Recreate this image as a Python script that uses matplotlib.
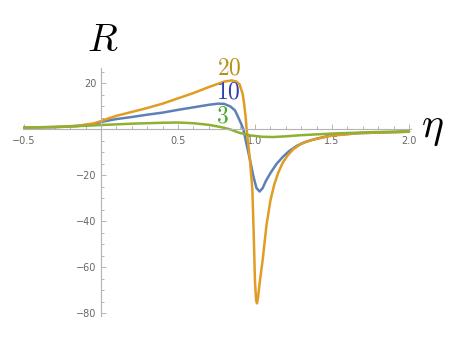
import matplotlib

matplotlib.use("Agg")
import matplotlib.pyplot as plt
import numpy as np
from matplotlib.ticker import MultipleLocator

plt.rcParams["mathtext.fontset"] = "cm"

# --- values -----------------------------------------------------------------
eta_20 = [-0.5, -0.3, -0.15, -0.05, 0.0, 0.05, 0.1, 0.2, 0.3, 0.4, 0.5, 0.6,
          0.7, 0.8, 0.85, 0.88, 0.9, 0.92, 0.93, 0.94, 0.946, 0.967, 0.983,
          0.992, 1.0, 1.007, 1.013, 1.02, 1.03, 1.05, 1.075, 1.1, 1.125, 1.15,
          1.18, 1.21, 1.25, 1.3, 1.36, 1.5, 1.68, 2.0]
r_20 = [0.8, 1.1, 1.6, 2.6, 3.6, 4.8, 5.9, 7.6, 9.3, 11.2, 13.5, 15.8,
        18.4, 20.8, 21.3, 20.8, 19.6, 15.5, 11.0, 5.0, 0.0, -13.0, -26.0,
        -46.0, -66.0, -74.0, -75.6, -73.0, -67.0, -56.7, -41.5, -31.0, -24.0,
        -19.0, -14.5, -11.5, -8.5, -6.3, -4.7, -2.7, -1.6, -1.0]

eta_10 = [-0.5, -0.3, -0.15, -0.05, 0.0, 0.05, 0.1, 0.2, 0.3, 0.4, 0.5, 0.6,
          0.7, 0.76, 0.8, 0.84, 0.87, 0.89, 0.91, 0.925, 0.946, 0.968, 0.99,
          1.01, 1.03, 1.05, 1.07, 1.1, 1.14, 1.18, 1.22, 1.27, 1.32, 1.4, 1.5,
          1.68, 2.0]
r_10 = [0.8, 1.0, 1.5, 2.3, 3.2, 3.9, 4.5, 5.4, 6.4, 7.3, 8.5, 9.6,
        10.7, 11.2, 11.1, 10.0, 8.3, 5.5, 2.5, 0.0, -6.7, -13.3, -20.5,
        -25.5, -27.0, -25.5, -22.5, -19.0, -15.0, -12.0, -9.5, -7.2, -5.6,
        -4.0, -2.5, -1.6, -1.0]

eta_3 = [-0.5, -0.25, 0.0, 0.2, 0.4, 0.5, 0.6, 0.7, 0.78, 0.84, 0.9, 0.97,
         1.05, 1.12, 1.2, 1.3, 1.5, 1.75, 2.0]
r_3 = [0.8, 1.1, 1.9, 2.5, 2.9, 3.0, 2.7, 2.0, 1.0, 0.0, -1.5, -2.6,
       -3.2, -3.3, -3.0, -2.5, -1.8, -1.2, -0.8]

x_ticks = [-0.5, 0.5, 1.0, 1.5, 2.0]
x_ticklabels = ["\u22120.5", "0.5", "1.0", "1.5", "2.0"]
y_ticks = [-80, -60, -40, -20, 20]
y_ticklabels = ["\u221280", "\u221260", "\u221240", "\u221220", "20"]

series = [
    # (eta, R, line colour, label, label colour, label position)
    (eta_10, r_10, "#5E81B5", "10", "#2f40b0", (0.499, 0.733)),
    (eta_20, r_20, "#E19C24", "20", "#b8901c", (0.501, 0.802)),
    (eta_3, r_3, "#8FB032", "3", "#45a82a", (0.486, 0.662)),
]

# --- figure -------------------------------------------------------------------
fig = plt.figure(figsize=(4.57, 3.43), dpi=100)
ax = fig.add_axes([23 / 457, 1 - 316 / 343, 388 / 457, 248 / 343])
ax.set_xlim(-0.506, 2.013)
ax.set_ylim(-81.1, 26.7)

for eta, r, color, label, lcolor, pos in series:
    ax.plot(eta, r, color=color, linewidth=1.8, solid_capstyle="round",
            solid_joinstyle="round")
    fig.text(pos[0], pos[1], f"${label}$", color=lcolor, fontsize=17,
             ha="center", va="center")

axis_grey = "#b4b4b4"
for side in ("top", "right"):
    ax.spines[side].set_visible(False)
for side in ("bottom", "left"):
    ax.spines[side].set_position(("data", 0))
    ax.spines[side].set_color(axis_grey)
    ax.spines[side].set_linewidth(0.8)

ax.set_xticks(x_ticks)
ax.set_xticklabels(x_ticklabels)
ax.set_yticks(y_ticks)
ax.set_yticklabels(y_ticklabels)
ax.xaxis.set_minor_locator(MultipleLocator(0.1))
ax.yaxis.set_minor_locator(MultipleLocator(5))
ax.tick_params(which="both", direction="in", color=axis_grey, width=0.7,
               labelcolor="#666666", labelsize=7)
ax.tick_params(which="major", length=3.5)
ax.tick_params(which="minor", length=2)
ax.tick_params(axis="x", pad=5)
ax.tick_params(axis="y", pad=3)

fig.text(0.2254, 0.8834, "$R$", fontsize=28, ha="center", va="center")
fig.text(0.945, 0.630, r"$\eta$", fontsize=30, ha="center", va="center")

fig.savefig("out.png", dpi=100)
